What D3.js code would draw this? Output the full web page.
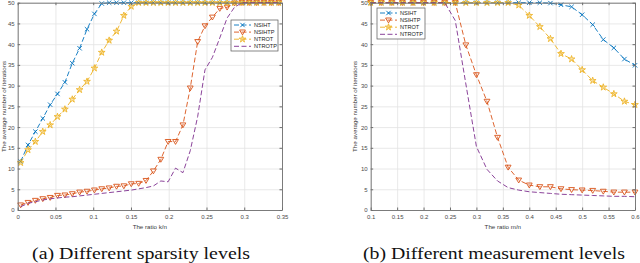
<!DOCTYPE html>
<html><head><meta charset="utf-8">
<script src="https://cdn.jsdelivr.net/npm/d3@7"></script>
<style>
body{margin:0;background:#fff;}
svg{display:block;}
.tick text{font-family:"Liberation Sans",Arial,sans-serif;font-size:6px;fill:#4a4a4a;}
</style></head>
<body><svg id="c" width="640" height="263"></svg>
<script>
// ---------- DATA ----------
const seriesNames = ["NSIHT","NSIHTP","NTROT","NTROTP"];

const leftX = [0.0039,0.0137,0.0234,0.0332,0.0430,0.0527,0.0625,0.0723,0.0820,0.0918,0.1016,0.1113,0.1211,0.1309,0.1406,0.1504,0.1602,0.1699,0.1797,0.1895,0.1992,0.2090,0.2188,0.2285,0.2383,0.2480,0.2578,0.2676,0.2773,0.2871,0.2969,0.3066,0.3164,0.3262,0.3359,0.3457];
const leftNSIHT  = [11.7,15.7,18.9,22.1,25.4,28.0,30.8,35.4,39.0,43.6,47.3,49.8,50,50,50,50,50,50,50,50,50,50,50,50,50,50,50,50,50,50,50,50,50,50,50,50];
const leftNSIHTP = [1.2,1.8,2.3,2.7,3.0,3.5,3.6,3.9,4.3,4.5,4.8,5.1,5.3,5.7,5.8,6.3,6.4,7.1,9.4,12.2,16.5,16.5,20.5,29.4,40.6,44.4,46.5,48.6,48.9,49.9,50,50,50,50,50,50];
const leftNTROT  = [11.4,14.5,16.5,18.9,20.5,22.5,24.3,26.7,29.0,31.0,34.2,38.0,40.9,43.1,46.9,49.1,50,50,50,50,50,50,50,50,50,50,50,50,50,50,50,50,50,50,50,50];
const leftNTROTP = [0.8,1.6,2.0,2.4,2.7,2.9,3.1,3.2,3.4,3.6,3.8,4.0,4.2,4.4,4.6,4.8,5.1,5.4,5.8,7.0,6.8,10.1,9.0,14.3,22.5,33.8,36.8,41.5,46.3,48.9,50,50,50,50,50,50];

const rightX = [0.10,0.12,0.14,0.16,0.18,0.20,0.22,0.24,0.26,0.28,0.30,0.32,0.34,0.36,0.38,0.40,0.42,0.44,0.46,0.48,0.50,0.52,0.54,0.56,0.58,0.60];
const rightNSIHT  = [50,50,50,50,50,50,50,50,50,50,50,50,50,50,50,50,50,49.9,49.5,49.0,47.1,44.7,41.1,39.1,36.4,34.9];
const rightNSIHTP = [50,50,50,50,50,50,50,50,50,39.8,32.6,26.2,17.5,10.3,7.2,6.0,5.6,5.6,5.1,4.9,4.8,4.7,4.5,4.3,4.3,4.3];
const rightNTROT  = [50,50,50,50,50,50,50,50,50,50,50,50,50,50,49.4,46.9,44.2,41.3,37.7,36.4,33.8,31.2,29.6,28.0,26.2,25.4];
const rightNTROTP = [50,50,50,50,50,50,50,50,45.7,30.4,15.3,9.8,7.0,5.4,4.8,4.4,4.2,4.0,3.8,3.7,3.6,3.5,3.4,3.3,3.3,3.2];

const leftXTicks  = [0,0.05,0.1,0.15,0.2,0.25,0.3,0.35];
const rightXTicks = [0.1,0.15,0.2,0.25,0.3,0.35,0.4,0.45,0.5,0.55,0.6];
const yTicks = [0,5,10,15,20,25,30,35,40,45,50];

// ---------- STYLE ----------
const colors = ["#0072BD","#D95319","#EDB120","#7E2F8E"];
const markers = ["x","tri","star","none"];
const svg = d3.select("#c");
const fmt = d => String(+(+d).toFixed(2));

function drawMarker(g, type, color){
  if(type==="x"){
    g.append("path").attr("d","M-2.2,-2.2L2.2,2.2M-2.2,2.2L2.2,-2.2").attr("stroke",color).attr("stroke-width",0.9).attr("fill","none");
  } else if(type==="tri"){
    g.append("path").attr("d","M0,2.8L-2.9,-2.1L2.9,-2.1Z").attr("stroke",color).attr("stroke-width",0.9).attr("fill","none");
  } else if(type==="star"){
    g.append("path").attr("d",d3.symbol(d3.symbolStar,14)()).attr("stroke",color).attr("stroke-width",0.8).attr("fill",color).attr("fill-opacity",0.35);
  }
}

function panel(o){
  const x = d3.scaleLinear().domain(o.xDomain).range([o.x0,o.x1]);
  const y = d3.scaleLinear().domain([0,50]).range([o.y0,o.y1]);
  const g = svg.append("g");
  const ph = o.y0-o.y1, pw = o.x1-o.x0;
  // grid
  g.append("g").attr("transform",`translate(0,${o.y0})`)
    .call(d3.axisBottom(x).tickValues(o.xTicks).tickSize(-ph).tickFormat(""))
    .call(s=>{s.select(".domain").remove(); s.selectAll("line").attr("stroke","#e3e3e3").attr("stroke-width",0.8);});
  g.append("g").attr("transform",`translate(${o.x0},0)`)
    .call(d3.axisLeft(y).tickValues(yTicks).tickSize(-pw).tickFormat(""))
    .call(s=>{s.select(".domain").remove(); s.selectAll("line").attr("stroke","#e3e3e3").attr("stroke-width",0.8);});
  // series
  const data = [o.s0,o.s1,o.s2,o.s3];
  data.forEach((vals,i)=>{
    const pts = o.xs.map((xv,k)=>[xv,vals[k]]);
    g.append("path").attr("d",d3.line().x(d=>x(d[0])).y(d=>y(d[1]))(pts))
      .attr("fill","none").attr("stroke",colors[i]).attr("stroke-width",0.9)
      .attr("stroke-dasharray","5,2.5");
    if(markers[i]!=="none"){
      pts.forEach(p=>{
        const m = g.append("g").attr("transform",`translate(${x(p[0])},${y(p[1])})`);
        drawMarker(m, markers[i], colors[i]);
      });
    }
  });
  // axes
  const axCol = "#6e6e6e";
  const styleAx = s=>{s.select(".domain").attr("stroke",axCol).attr("stroke-width",0.9); s.selectAll(".tick line").attr("stroke",axCol);};
  g.append("g").attr("transform",`translate(0,${o.y0})`)
    .call(d3.axisBottom(x).tickValues(o.xTicks).tickSizeInner(-2.5).tickSizeOuter(0).tickPadding(4.5).tickFormat(fmt)).call(styleAx);
  g.append("g").attr("transform",`translate(0,${o.y1})`)
    .call(d3.axisTop(x).tickValues(o.xTicks).tickSizeInner(-2.5).tickSizeOuter(0).tickFormat("")).call(styleAx);
  g.append("g").attr("transform",`translate(${o.x0},0)`)
    .call(d3.axisLeft(y).tickValues(yTicks).tickSizeInner(-2.5).tickSizeOuter(0).tickPadding(3).tickFormat(fmt)).call(styleAx);
  g.append("g").attr("transform",`translate(${o.x1},0)`)
    .call(d3.axisRight(y).tickValues(yTicks).tickSizeInner(-2.5).tickSizeOuter(0).tickFormat("")).call(styleAx);
  // axis titles
  g.append("text").attr("x",(o.x0+o.x1)/2).attr("y",229).attr("text-anchor","middle")
    .attr("font-family","Liberation Sans, Arial, sans-serif").attr("font-size",6.2).attr("fill","#3a3a3a").text(o.xTitle);
  g.append("text").attr("transform",`translate(${o.yTitleX},${(o.y0+o.y1)/2}) rotate(-90)`).attr("text-anchor","middle")
    .attr("font-family","Liberation Sans, Arial, sans-serif").attr("font-size",6.2).attr("fill","#3a3a3a").text("The average number of iterations");
  // caption
  g.append("text").attr("x",o.capX - o.capW/2).attr("y",259)
    .attr("textLength",o.capW).attr("lengthAdjust","spacingAndGlyphs")
    .attr("font-family","Liberation Serif, 'DejaVu Serif', serif").attr("font-size",16.5).attr("fill","#111").text(o.caption);
  // legend
  const L = o.legend;
  const lg = g.append("g");
  lg.append("rect").attr("x",L.x).attr("y",L.y).attr("width",L.w).attr("height",L.h)
    .attr("fill","#fff").attr("stroke","#555").attr("stroke-width",0.7);
  seriesNames.forEach((nm,i)=>{
    const yy = L.y + 5 + i*7.1;
    lg.append("line").attr("x1",L.x+3).attr("x2",L.x+20).attr("y1",yy).attr("y2",yy)
      .attr("stroke",colors[i]).attr("stroke-width",0.9).attr("stroke-dasharray","5,2.5");
    if(markers[i]!=="none"){
      drawMarker(lg.append("g").attr("transform",`translate(${L.x+11.5},${yy})`), markers[i], colors[i]);
    }
    lg.append("text").attr("x",L.x+23).attr("y",yy+2).attr("font-family","Liberation Sans, Arial, sans-serif")
      .attr("font-size",5.6).attr("fill","#222").text(nm);
  });
}

panel({xDomain:[0,0.35],x0:17.7,x1:282,y0:210,y1:2.7,xTicks:leftXTicks,xs:leftX,
  s0:leftNSIHT,s1:leftNSIHTP,s2:leftNTROT,s3:leftNTROTP,xTitle:"The ratio k/n",yTitleX:5.5,
  caption:"(a) Different sparsity levels",capX:141,capW:218,legend:{x:231,y:20,w:47,h:31}});
panel({xDomain:[0.1,0.6],x0:370.7,x1:635,y0:210,y1:2.7,xTicks:rightXTicks,xs:rightX,
  s0:rightNSIHT,s1:rightNSIHTP,s2:rightNTROT,s3:rightNTROTP,xTitle:"The ratio m/n",yTitleX:357,
  caption:"(b) Different measurement levels",capX:494,capW:262,legend:{x:377,y:8,w:48,h:31}});
</script></body></html>
